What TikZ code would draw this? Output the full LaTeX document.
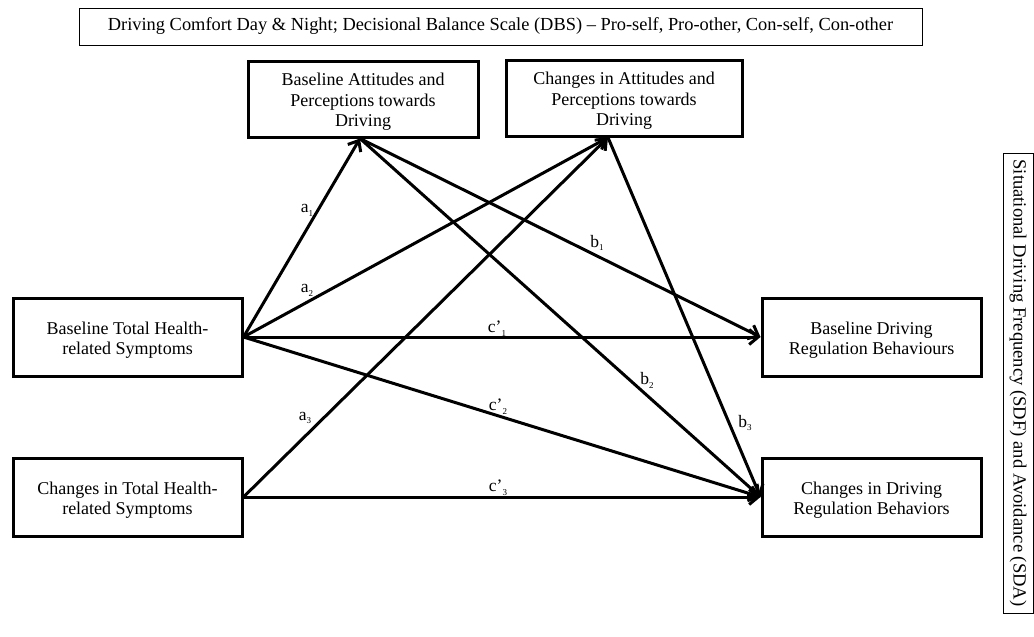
\documentclass[tikz,border=0pt]{standalone}
\usepackage{fontspec}
\setmainfont{Liberation Serif}
\usetikzlibrary{arrows.meta,calc}
\newcommand{\lab}[2]{#1\raisebox{-0.22em}{\fontsize{9}{9}\selectfont #2}}
\begin{document}
\begin{tikzpicture}[x=1pt,y=-1pt,
  box/.style={draw,line width=3pt,align=center,inner sep=2pt,font=\fontsize{18}{20.5}\selectfont},
  thinbox/.style={draw,line width=1pt,align=center,inner sep=0pt},
  conn/.style={line width=3pt,-{Straight Barb[length=9pt,width=15pt]}},
  lbl/.style={font=\fontsize{17.5}{17.5}\selectfont,inner sep=0pt}]
\useasboundingbox (0,0) rectangle (1034,637);
\node[thinbox,minimum width=843pt,minimum height=37pt,font=\fontsize{18.4}{20}\selectfont] (top) at (500.5,26.5)
  {Driving Comfort Day \& Night; Decisional Balance Scale (DBS) -- Pro-self, Pro-other, Con-self, Con-other};
\node[thinbox,rotate=-90,minimum width=460pt,minimum height=30pt,font=\fontsize{18.6}{20}\selectfont] (side) at (1018,383)
  {Situational Driving Frequency (SDF) and Avoidance (SDA)};
\node[box,minimum width=230pt,minimum height=76pt] (BA) at (363,99) {\vphantom{Ag}\\[-14pt]Baseline Attitudes and\\Perceptions towards\\Driving};
\node[box,minimum width=236pt,minimum height=76pt] (CA) at (624,98) {\vphantom{Ag}\\[-14pt]Changes in Attitudes and\\Perceptions towards\\Driving};
\node[box,minimum width=229pt,minimum height=78pt] (BTH) at (127.5,337) {\vphantom{Ag}\\[-14pt]Baseline Total Health-\\related Symptoms};
\node[box,minimum width=229pt,minimum height=78pt] (CTH) at (127.5,497) {\vphantom{Ag}\\[-14pt]Changes in Total Health-\\related Symptoms};
\node[box,minimum width=219pt,minimum height=78pt] (BDR) at (871.5,337) {\vphantom{Ag}\\[-14pt]Baseline Driving\\Regulation Behaviours};
\node[box,minimum width=219pt,minimum height=78pt] (CDR) at (871.5,497) {\vphantom{Ag}\\[-14pt]Changes in Driving\\Regulation Behaviors};
\coordinate (CAp) at ($(CA.south)+(-16,0)$);
\coordinate (BAp) at ($(BA.south)+(-3,0)$);
% connectors
\draw[conn] (BTH.east) -- (BAp);
\draw[conn] (BTH.east) -- (CAp);
\draw[conn] (CTH.east) -- (CAp);
\draw[conn] (BAp) -- (BDR.west);
\draw[conn] (BAp) -- (CDR.west);
\draw[conn] (CAp) -- (CDR.west);
\draw[conn] (BTH.east) -- (BDR.west);
\draw[conn] (BTH.east) -- (CDR.west);
\draw[conn] (CTH.east) -- (CDR.west);
% labels
\node[lbl] (la1) at (307,210) {\lab{a}{1}};
\node[lbl] (la2) at (307,290) {\lab{a}{2}};
\node[lbl] (la3) at (305,418) {\lab{a}{3}};
\node[lbl] (lb1) at (597,243) {\lab{b}{1}};
\node[lbl] (lb2) at (647,380) {\lab{b}{2}};
\node[lbl] (lb3) at (745,423) {\lab{b}{3}};
\node[lbl] (lc1) at (497,329) {\lab{c'}{1}};
\node[lbl] (lc2) at (498,407) {\lab{c'}{2}};
\node[lbl] (lc3) at (498,488) {\lab{c'}{3}};
\end{tikzpicture}
\end{document}
